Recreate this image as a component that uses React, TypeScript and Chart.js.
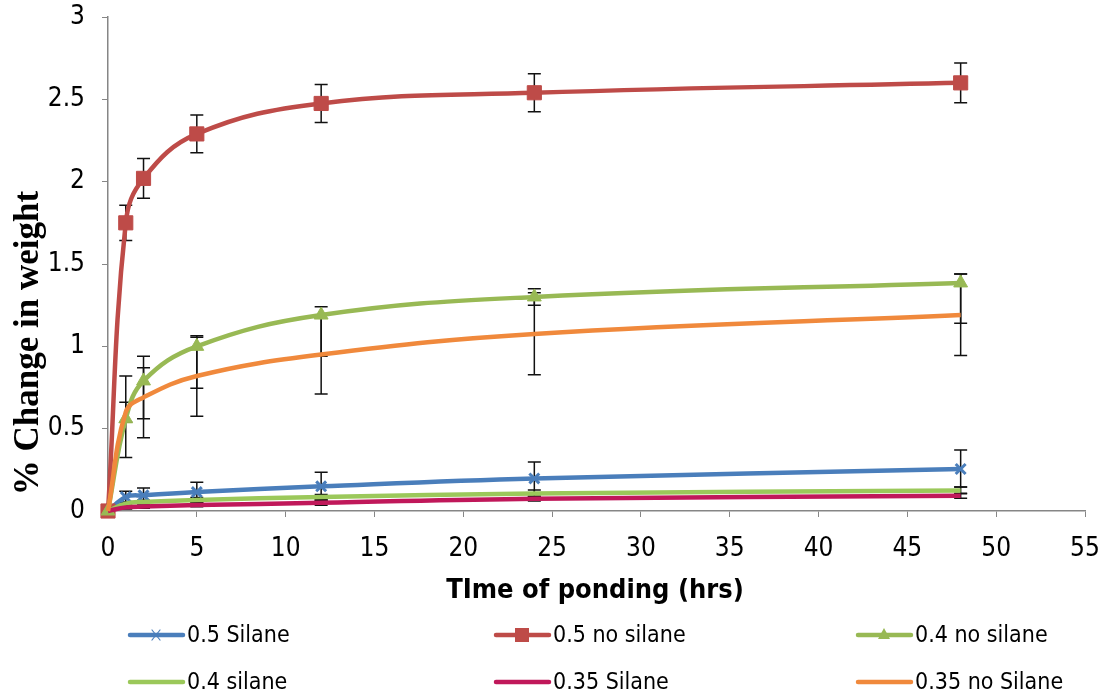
import React, { useEffect, useRef } from "react";
import { Chart, registerables } from "chart.js";

Chart.register(...registerables);

// ---- data ----
const times = [0, 1, 2, 5, 12, 24, 48];
const xTicks = [0, 5, 10, 15, 20, 25, 30, 35, 40, 45, 50, 55];
const yTicks = [0, 0.5, 1, 1.5, 2, 2.5, 3];

const seriesNames = ["0.5 Silane", "0.5 no silane", "0.4 no silane", "0.4 silane", "0.35 Silane", "0.35 no Silane"];

const s05Silane = [0, 0.085, 0.095, 0.115, 0.15, 0.198, 0.255];
const s05SilaneErrPlus = [0, 0.035, 0.045, 0.06, 0.085, 0.1, 0.115];
const s05SilaneErrMinus = [0, 0.035, 0.045, 0.06, 0.085, 0.1, 0.11];

const s05NoSilane = [0, 1.75, 2.02, 2.29, 2.475, 2.54, 2.6];
const s05NoSilaneErrPlus = [0, 0.107, 0.12, 0.115, 0.115, 0.116, 0.12];
const s05NoSilaneErrMinus = [0, 0.107, 0.12, 0.115, 0.115, 0.116, 0.12];

const s04NoSilane = [0, 0.56, 0.79, 1.0, 1.19, 1.3, 1.385];
const s04NoSilaneErrPlus = [0, 0.26, 0.08, 0.055, 0.05, 0.05, 0.055];
const s04NoSilaneErrMinus = [0, 0.235, 0.23, 0.255, 0.25, 0.05, 0.245];

const s04Silane = [0, 0.045, 0.055, 0.067, 0.085, 0.107, 0.125];
const s04SilaneErrPlus = [0, 0.01, 0.01, 0.015, 0.015, 0.02, 0.02];
const s04SilaneErrMinus = [0, 0.01, 0.01, 0.015, 0.015, 0.02, 0.02];

const s035Silane = [0, 0.022, 0.027, 0.036, 0.05, 0.075, 0.093];
const s035SilaneErrPlus = [0, 0.01, 0.01, 0.01, 0.015, 0.015, 0.015];
const s035SilaneErrMinus = [0, 0.01, 0.01, 0.01, 0.015, 0.015, 0.015];

const s035NoSilane = [0, 0.6, 0.69, 0.82, 0.95, 1.075, 1.19];
const s035NoSilaneErrPlus = [0, 0.06, 0.25, 0.245, 0.24, 0.25, 0.25];
const s035NoSilaneErrMinus = [0, 0.06, 0.245, 0.245, 0.24, 0.247, 0.245];

const xTitle = "TIme of ponding (hrs)";
const yTitle = "% Change in weight";

// ---- styles ----
const colors = ["#4A7EBB", "#BE4B48", "#98B954", "#9BC85A", "#C0185A", "#F0893C"];
const pointStyles: any[] = ["crossRot", "rect", "triangle", false, false, false];
const pointRadii = [7, 10, 8, 0, 0, 0];
const narrow = "'Liberation Sans Narrow', 'DejaVu Sans Condensed', 'Open Sans', sans-serif";

const values = [s05Silane, s05NoSilane, s04NoSilane, s04Silane, s035Silane, s035NoSilane];
const errPlus = [s05SilaneErrPlus, s05NoSilaneErrPlus, s04NoSilaneErrPlus, s04SilaneErrPlus, s035SilaneErrPlus, s035NoSilaneErrPlus];
const errMinus = [s05SilaneErrMinus, s05NoSilaneErrMinus, s04NoSilaneErrMinus, s04SilaneErrMinus, s035SilaneErrMinus, s035NoSilaneErrMinus];

const errorBarPlugin = {
  id: "errorBars",
  beforeDatasetsDraw(chart: any) {
    const { ctx, scales } = chart;
    const xs = scales.x;
    const ys = scales.y;
    ctx.save();
    ctx.strokeStyle = "#111";
    ctx.lineWidth = 1.5;
    values.forEach((vals, si) => {
      vals.forEach((v, i) => {
        const p = errPlus[si][i];
        const m = errMinus[si][i];
        if (!p && !m) return;
        const x = xs.getPixelForValue(times[i]);
        const yTop = ys.getPixelForValue(v + p);
        const yBot = ys.getPixelForValue(v - m);
        ctx.beginPath();
        ctx.moveTo(x, yTop);
        ctx.lineTo(x, yBot);
        ctx.moveTo(x - 6.5, yTop);
        ctx.lineTo(x + 6.5, yTop);
        ctx.moveTo(x - 6.5, yBot);
        ctx.lineTo(x + 6.5, yBot);
        ctx.stroke();
      });
    });
    ctx.restore();
  },
};

function drawMarker(ctx: CanvasRenderingContext2D, style: any, x: number, y: number, color: string) {
  ctx.save();
  ctx.fillStyle = color;
  ctx.strokeStyle = color;
  if (style === "rect") {
    ctx.fillRect(x - 7, y - 7, 14, 14);
  } else if (style === "triangle") {
    ctx.beginPath();
    ctx.moveTo(x, y - 7);
    ctx.lineTo(x + 6, y + 4);
    ctx.lineTo(x - 6, y + 4);
    ctx.closePath();
    ctx.fill();
  } else if (style === "crossRot") {
    ctx.lineWidth = 1.2;
    ctx.beginPath();
    ctx.moveTo(x - 4, y - 5);
    ctx.lineTo(x + 4, y + 5);
    ctx.moveTo(x + 4, y - 5);
    ctx.lineTo(x - 4, y + 5);
    ctx.stroke();
  }
  ctx.restore();
}

const decorPlugin = {
  id: "decor",
  afterDraw(chart: any) {
    const { ctx } = chart;
    ctx.save();
    ctx.fillStyle = "#000";
    // x title
    ctx.font = `bold 27px ${narrow}`;
    ctx.textAlign = "center";
    ctx.textBaseline = "middle";
    ctx.fillText(xTitle, 595, 591);
    // y title
    ctx.save();
    ctx.translate(29, 343);
    ctx.rotate(-Math.PI / 2);
    ctx.font = "bold 35px 'Liberation Serif', serif";
    ctx.fillText(yTitle, 0, 0);
    ctx.restore();
    // legend
    const colX = [128, 494, 856];
    const rowY = [635, 682];
    ctx.font = `23px ${narrow}`;
    ctx.textAlign = "left";
    seriesNames.forEach((name, i) => {
      const x = colX[i % 3];
      const y = rowY[Math.floor(i / 3)];
      ctx.strokeStyle = colors[i];
      ctx.lineWidth = 4.5;
      ctx.lineCap = "round";
      ctx.beginPath();
      ctx.moveTo(x + 2, y);
      ctx.lineTo(x + 55, y);
      ctx.stroke();
      if (pointStyles[i]) drawMarker(ctx, pointStyles[i], x + 28, y, colors[i]);
      ctx.fillStyle = "#000";
      ctx.fillText(name, x + 59, y + 1);
    });
    ctx.restore();
  },
};

export default function App() {
  const ref = useRef<HTMLCanvasElement | null>(null);
  useEffect(() => {
    if (!ref.current) return;
    const datasets = seriesNames.map((name, i) => ({
      label: name,
      data: times.map((t, j) => ({ x: t, y: values[i][j] })),
      borderColor: colors[i],
      backgroundColor: colors[i],
      borderWidth: 4.5,
      pointStyle: pointStyles[i] || "circle",
      pointRadius: pointRadii[i],
      pointBorderWidth: pointStyles[i] === "crossRot" ? 3 : 1,
      pointBackgroundColor: colors[i],
      pointBorderColor: colors[i],
      tension: 0.4,
      order: -i,
      fill: false,
      clip: false as any,
    }));
    const chart = new Chart(ref.current, {
      type: "line",
      data: { datasets },
      options: {
        animation: false,
        responsive: false,
        maintainAspectRatio: false,
        layout: { padding: { left: 0, top: 17, right: 26, bottom: 0 } },
        plugins: { legend: { display: false }, tooltip: { enabled: false } },
        scales: {
          x: {
            type: "linear",
            min: 0,
            max: 55,
            afterBuildTicks: (s: any) => {
              s.ticks = xTicks.map((v) => ({ value: v }));
            },
            afterFit: (s: any) => {
              s.height = 187;
              s.paddingLeft = 0;
              s.paddingRight = 0;
            },
            grid: { drawOnChartArea: false, drawTicks: true, tickLength: 6, color: "#868686" },
            border: { color: "#868686", width: 1.5 },
            ticks: {
              color: "#000",
              font: { family: narrow, size: 26 },
              padding: 17,
              maxRotation: 0,
              callback: (v: any) => String(v),
            },
          },
          y: {
            type: "linear",
            min: 0,
            max: 3,
            afterBuildTicks: (s: any) => {
              s.ticks = yTicks.map((v) => ({ value: v }));
            },
            afterFit: (s: any) => {
              s.width = 108;
              s.paddingTop = 0;
              s.paddingBottom = 0;
            },
            grid: { drawOnChartArea: false, drawTicks: true, tickLength: 6, color: "#868686" },
            border: { color: "#868686", width: 1.5 },
            ticks: {
              color: "#000",
              font: { family: narrow, size: 26 },
              padding: 17,
              callback: (v: any) => String(v),
            },
          },
        },
      },
      plugins: [errorBarPlugin, decorPlugin],
    });
    return () => chart.destroy();
  }, []);
  return (
    <div style={{ position: "fixed", left: 0, top: 0, width: 1111, height: 698, background: "#fff" }}>
      <canvas ref={ref} width={1111} height={698} style={{ width: 1111, height: 698 }} />
    </div>
  );
}
